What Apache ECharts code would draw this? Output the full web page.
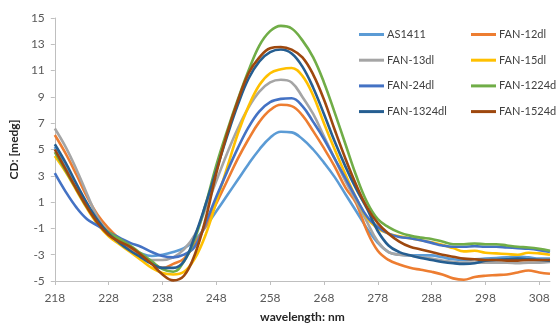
<!DOCTYPE html>
<html>
<head>
<meta charset="utf-8">
<script src="https://cdn.jsdelivr.net/npm/echarts@6/dist/echarts.min.js"></script>
<style>
html,body{margin:0;padding:0;background:#fff;}
#c{width:556px;height:328px;}
</style>
</head>
<body>
<div id="c"></div>
<script>
// wavelength (nm), every 2 nm
var wavelengths = [218,220,222,224,226,228,230,232,234,236,238,240,242,244,246,248,250,252,254,256,258,260,262,264,266,268,270,272,274,276,278,280,282,284,286,288,290,292,294,296,298,300,302,304,306,308,310];
var xTickLabels = [218,228,238,248,258,268,278,288,298,308];
var yTickLabels = [-5,-3,-1,1,3,5,7,9,11,13,15];
var seriesNames = ['AS1411','FAN-12dl','FAN-13dl','FAN-15dl','FAN-24dl','FAN-1224dl','FAN-1324dl','FAN-1524dl'];

var AS1411 = [5.2,3.6,2.0,0.6,-0.6,-1.4,-2.0,-2.5,-2.9,-3.1,-3.0,-2.8,-2.5,-1.9,-0.9,0.3,1.5,2.7,3.9,5.0,5.9,6.35,6.3,5.8,5.0,4.0,2.9,1.6,0.3,-1.0,-2.1,-2.8,-3.0,-3.05,-3.05,-3.05,-3.2,-3.35,-3.4,-3.35,-3.3,-3.25,-3.2,-3.15,-3.2,-3.3,-3.3];
var FAN12 = [6.1,4.7,3.1,1.4,0.0,-1.0,-1.8,-2.5,-3.1,-3.6,-4.0,-3.7,-3.3,-2.2,-0.8,0.9,2.6,4.3,5.8,7.1,8.0,8.4,8.3,7.6,6.4,5.1,3.7,2.1,0.9,-1.2,-2.7,-3.4,-3.75,-4.0,-4.15,-4.3,-4.5,-4.8,-4.9,-4.7,-4.6,-4.55,-4.5,-4.35,-4.2,-4.35,-4.45];
var FAN13 = [6.6,5.2,3.5,1.6,-0.2,-1.3,-2.1,-2.7,-3.2,-3.4,-3.4,-3.2,-2.6,-1.5,0.5,2.6,4.7,6.6,8.2,9.4,10.1,10.3,10.1,9.0,7.7,6.0,4.3,2.6,1.1,-0.5,-2.0,-2.8,-3.0,-3.05,-3.2,-3.3,-3.45,-3.55,-3.6,-3.6,-3.6,-3.6,-3.6,-3.65,-3.6,-3.6,-3.55];
var FAN15 = [4.5,3.3,1.9,0.5,-0.7,-1.6,-2.2,-2.8,-3.4,-4.0,-4.4,-4.5,-4.3,-3.3,-1.5,1.0,3.6,6.2,8.3,9.9,10.8,11.1,11.2,10.6,9.1,7.0,5.0,3.1,1.3,-0.2,-1.0,-1.4,-1.6,-1.75,-1.9,-2.05,-2.25,-2.5,-2.75,-2.7,-2.85,-2.9,-2.95,-3.0,-2.85,-2.9,-3.0];
var FAN24 = [3.2,1.8,0.6,-0.3,-0.8,-1.3,-1.7,-2.1,-2.4,-2.8,-3.1,-3.2,-3.0,-2.4,-0.6,1.4,3.3,5.1,6.7,7.9,8.6,8.85,8.9,8.3,7.1,5.8,4.3,2.8,1.3,-0.1,-0.9,-1.4,-1.65,-1.75,-1.9,-2.1,-2.3,-2.4,-2.4,-2.35,-2.4,-2.4,-2.45,-2.5,-2.55,-2.65,-2.8];
var FAN1224 = [4.8,3.4,2.0,0.6,-0.5,-1.3,-1.8,-2.3,-2.9,-3.5,-4.1,-4.3,-3.5,-1.8,0.8,3.8,6.4,8.8,11.0,12.9,14.0,14.4,14.2,13.3,12.0,10.1,7.8,5.4,3.0,1.0,-0.3,-0.9,-1.3,-1.55,-1.7,-1.8,-2.0,-2.2,-2.2,-2.15,-2.2,-2.2,-2.3,-2.4,-2.45,-2.55,-2.7];
var FAN1324 = [5.4,4.0,2.4,0.9,-0.4,-1.4,-2.1,-2.7,-3.2,-3.7,-4.0,-4.0,-3.5,-1.6,0.8,3.4,6.0,8.4,10.4,11.7,12.4,12.6,12.3,11.3,9.7,7.7,5.6,3.7,2.0,0.5,-1.2,-2.3,-2.8,-3.05,-3.25,-3.4,-3.55,-3.65,-3.7,-3.65,-3.45,-3.4,-3.35,-3.3,-3.35,-3.4,-3.45];
var FAN1524 = [5.0,3.5,2.0,0.6,-0.6,-1.5,-2.0,-2.4,-3.0,-3.7,-4.5,-4.95,-4.6,-3.0,-0.3,3.2,6.2,8.7,10.8,12.0,12.7,12.8,12.6,12.0,10.7,8.8,6.5,4.3,2.3,0.6,-0.6,-1.4,-2.0,-2.4,-2.6,-2.8,-3.0,-3.15,-3.3,-3.35,-3.4,-3.4,-3.45,-3.45,-3.4,-3.4,-3.4];

var seriesValues = [AS1411, FAN12, FAN13, FAN15, FAN24, FAN1224, FAN1324, FAN1524];
var colors = ['#5B9BD5','#ED7D31','#A5A5A5','#FFC000','#4472C4','#70AD47','#255E91','#9E480E'];

function pairs(vals){
  return wavelengths.map(function(w,i){ return [w, vals[i]]; });
}

var font = 'Lato, "Open Sans", sans-serif';
var chart = echarts.init(document.getElementById('c'), null, {renderer:'canvas'});
var legendBase = {
  orient: 'vertical',
  top: 22,
  itemWidth: 25,
  itemHeight: 3,
  itemGap: 10.7,
  icon: 'rect',
  textStyle: {fontFamily: font, fontSize: 11, color: '#404040', lineHeight: 15, padding: [0,0,0,-2]}
};
chart.setOption({
  animation: false,
  color: colors,
  textStyle: {fontFamily: font},
  grid: {left: 51, right: 6, top: 18, bottom: 40, containLabel: false},
  legend: [
    Object.assign({}, legendBase, {left: 354, data: [seriesNames[0], seriesNames[2], seriesNames[4], seriesNames[6]]}),
    Object.assign({}, legendBase, {left: 466, data: [seriesNames[1], seriesNames[3], seriesNames[5], seriesNames[7]]})
  ],
  xAxis: {
    type: 'value', min: 218, max: 310,
    name: 'wavelength: nm', nameLocation: 'middle', nameGap: 30,
    nameTextStyle: {fontFamily: font, fontSize: 12, fontWeight: 'bold', color: '#262626'},
    axisLine: {show: true, onZero: false, lineStyle: {color: '#BFBFBF', width: 1}},
    axisTick: {show: true, length: 4, lineStyle: {color: '#BFBFBF'}, customValues: xTickLabels},
    axisLabel: {fontFamily: font, fontSize: 12, color: '#595959', margin: 11, customValues: xTickLabels},
    splitLine: {show: false}
  },
  yAxis: {
    type: 'value', min: -5, max: 15,
    name: 'CD: [medg]', nameLocation: 'middle', nameGap: 25, nameRotate: 90,
    nameTextStyle: {fontFamily: font, fontSize: 12, fontWeight: 'bold', color: '#262626'},
    axisLine: {show: true, onZero: false, lineStyle: {color: '#BFBFBF', width: 1}},
    axisTick: {show: true, length: 4, lineStyle: {color: '#BFBFBF'}, customValues: yTickLabels},
    axisLabel: {fontFamily: font, fontSize: 12, color: '#595959', margin: 10, customValues: yTickLabels},
    splitLine: {show: false}
  },
  series: seriesNames.map(function(n, i){
    return {
      name: n, type: 'line', data: pairs(seriesValues[i]),
      smooth: 0.4, showSymbol: false, symbol: 'none',
      lineStyle: {width: 2.6, color: colors[i]},
      itemStyle: {color: colors[i]}
    };
  })
});
</script>
</body>
</html>
